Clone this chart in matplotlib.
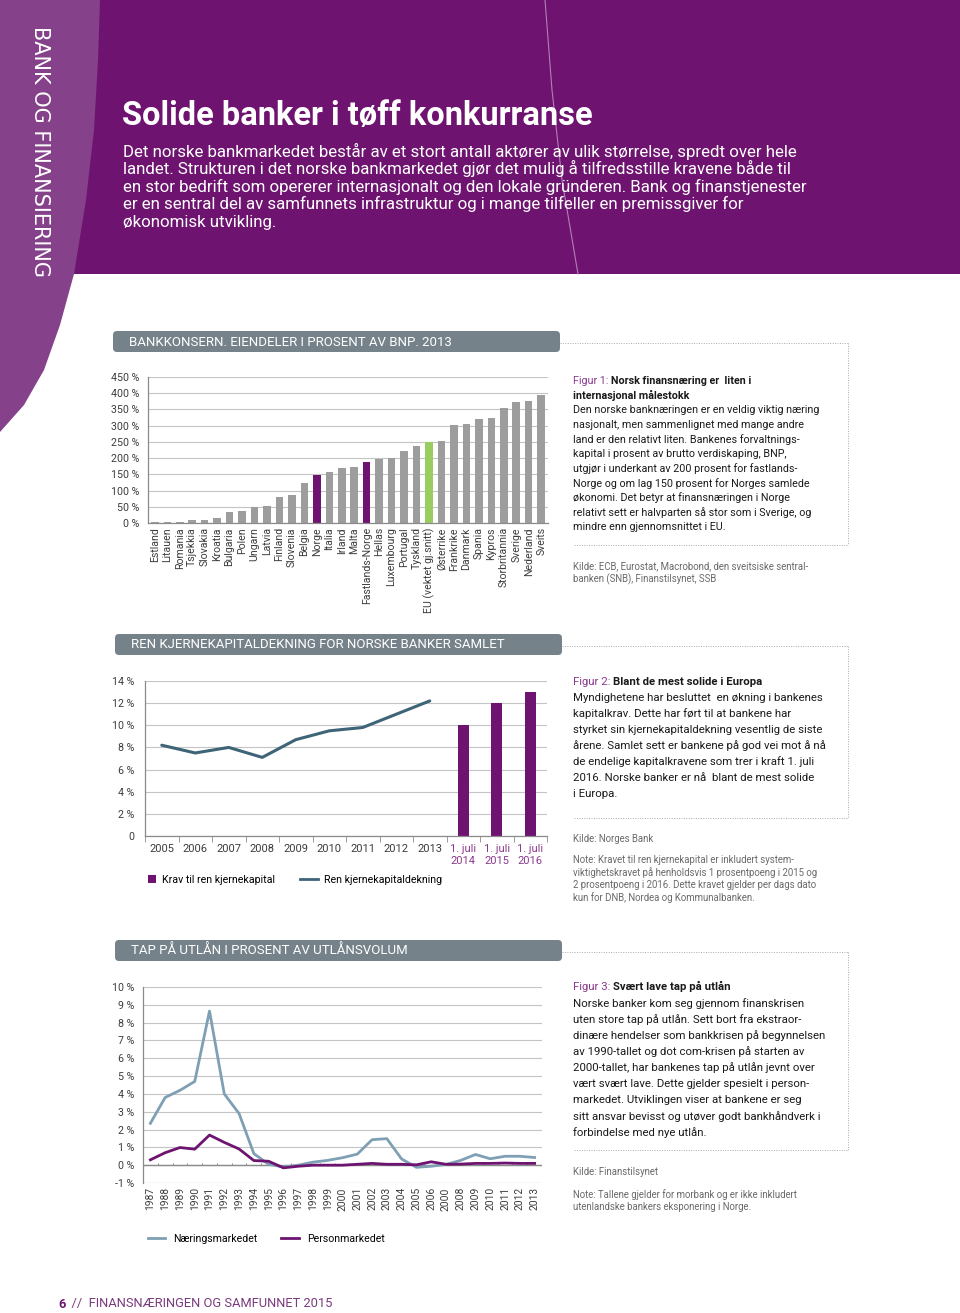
import matplotlib
matplotlib.use("Agg")
import matplotlib.pyplot as plt
from matplotlib import font_manager
from matplotlib.patches import Polygon, FancyBboxPatch, Patch
from matplotlib.lines import Line2D

# fonts: a narrow face for the DIN-like texts if there is one
names = {f.name for f in font_manager.fontManager.ttflist}
narrow = 'Liberation Sans Narrow' if 'Liberation Sans Narrow' in names else 'Roboto'
plt.rcParams['font.family'] = ['Roboto', 'DejaVu Sans']

purple = '#6e1470'
light_purple = '#85418a'
box_gray = '#76828a'
bar_gray = '#9d9d9d'
green = '#9acd5f'
grid_c = '#c4c4c4'
txt_c = '#3c3c3c'

# ---- data: figure 1 ----
countries = ["Estland", "Litauen", "Romania", "Tsjekkia", "Slovakia", "Kroatia",
             "Bulgaria", "Polen", "Ungarn", "Latvia", "Finland", "Slovenia", "Belgia",
             "Norge", "Italia", "Irland", "Malta", "Fastlands-Norge", "Hellas",
             "Luxembourg", "Portugal", "Tyskland", "EU (vektet gj.snitt)", "Østerrike",
             "Frankrike", "Danmark", "Spania", "Kypros", "Storbritannia", "Sverige",
             "Nederland", "Sveits"]
assets = [4, 4, 4, 9, 9, 15, 33, 36, 48, 51, 79, 86, 124, 149, 156, 170, 174, 189,
          196, 200, 223, 237, 251, 253, 301, 306, 321, 323, 353, 373, 375, 394]

# ---- data: figure 2 ----
cap_years = ["2005", "2006", "2007", "2008", "2009", "2010", "2011", "2012", "2013"]
cap_ratio = [8.2, 7.5, 8.0, 7.1, 8.7, 9.5, 9.8, 11.0, 12.2]
req_labels = ["1. juli\n2014", "1. juli\n2015", "1. juli\n2016"]
req_values = [10, 12, 13]

# ---- data: figure 3 ----
loss_years = ["1987", "1988", "1989", "1990", "1991", "1992", "1993", "1994", "1995",
              "1996", "1997", "1998", "1999", "2000", "2001", "2002", "2003", "2004",
              "2005", "2006", "2000", "2008", "2009", "2010", "2011", "2012", "2013"]
naering = [2.35, 3.8, 4.2, 4.7, 8.65, 4.0, 2.9, 0.65, 0.05, -0.1, 0.0, 0.17, 0.27,
           0.42, 0.62, 1.43, 1.49, 0.35, -0.12, -0.06, 0.04, 0.27, 0.6, 0.36, 0.5,
           0.5, 0.43]
person = [0.3, 0.7, 0.99, 0.9, 1.69, 1.28, 0.91, 0.26, 0.22, -0.15, -0.06, 0.0, 0.0,
          0.0, 0.05, 0.1, 0.05, 0.05, 0.02, 0.19, 0.05, 0.06, 0.1, 0.1, 0.12, 0.1, 0.1]

W, H = 960, 1313
fig = plt.figure(figsize=(W / 100, H / 100), dpi=100)
fig.patch.set_facecolor('white')

# background axes in pixel units for the page layout
bg = fig.add_axes([0, 0, 1, 1])
bg.set_xlim(0, W)
bg.set_ylim(H, 0)
bg.axis('off')


def px_axes(l, t, r, b):
    return fig.add_axes([l / W, 1 - b / H, (r - l) / W, (b - t) / H])


# header
bg.add_patch(Polygon([(0, 0), (W, 0), (W, 274), (0, 274)], closed=True,
                     facecolor=purple, edgecolor='none'))
band = [(0, 0), (100, 0), (98, 60), (94, 130), (86, 200), (74, 274), (60, 325),
        (44, 370), (24, 405), (0, 432)]
bg.add_patch(Polygon(band, closed=True, facecolor=light_purple, edgecolor='none'))
bg.plot([545, 552, 562, 578], [0, 90, 180, 274], color='#b27fb6', lw=0.8)
bg.text(40, 26, "BANK OG FINANSIERING", rotation=-90, color='white', fontsize=15,
        ha='center', va='top', family=['DejaVu Sans'])
bg.text(122, 116, "Solide banker i tøff konkurranse", color='white', fontsize=23.5,
        fontweight='bold', va='center', family=[narrow, 'Roboto'])
intro = ["Det norske bankmarkedet består av et stort antall aktører av ulik størrelse, spredt over hele",
         "landet. Strukturen i det norske bankmarkedet gjør det mulig å tilfredsstille kravene både til",
         "en stor bedrift som opererer internasjonalt og den lokale gründeren. Bank og finanstjenester",
         "er en sentral del av samfunnets infrastruktur og i mange tilfeller en premissgiver for",
         "økonomisk utvikling."]
for i, line in enumerate(intro):
    bg.text(123, 151 + i * 17.8, line, color='white', fontsize=12.2, va='center',
            family=[narrow, 'Roboto'])


def section(y, x0, x1, title, box_bottom):
    bg.add_patch(FancyBboxPatch((x0, y), x1 - x0, 21, boxstyle="round,pad=0,rounding_size=4",
                                facecolor=box_gray, edgecolor='none'))
    bg.text(x0 + 16, y + 11, title, color='white', fontsize=9.5, va='center',
            family=[narrow, 'Roboto'])
    ly = y + 12
    bg.plot([x1, 848], [ly, ly], color='#aaaaaa', lw=0.7, ls=(0, (1, 1.5)))
    bg.plot([848, 848], [ly, box_bottom], color='#aaaaaa', lw=0.7, ls=(0, (1, 1.5)))
    bg.plot([574, 848], [box_bottom, box_bottom], color='#aaaaaa', lw=0.7, ls=(0, (1, 1.5)))


section(331, 113, 560, "BANKKONSERN. EIENDELER I PROSENT AV BNP. 2013", 545)
section(634, 115, 562, "REN KJERNEKAPITALDEKNING FOR NORSKE BANKER SAMLET", 818)
section(940, 115, 562, "TAP PÅ UTLÅN I PROSENT AV UTLÅNSVOLUM", 1150)


def panel(no, y0, step, size, head, body, kilde, note, y_kilde, y_note, small):
    t = bg.text(573, y0, f"Figur {no}: ", color='#8a3a8c', fontsize=size, va='center')
    bg.annotate(head[0], xy=(1, 0), xycoords=t, va='bottom', ha='left',
                fontsize=size, fontweight='bold', color='#1a1a1a')
    lines = [(h, 'bold') for h in head[1:]] + [(b, 'normal') for b in body]
    for i, (line, w) in enumerate(lines):
        bg.text(573, y0 + (i + 1) * step, line, fontsize=size, fontweight=w,
                color='#1a1a1a', va='center')
    bg.text(573, y_kilde, kilde, fontsize=small, color='#6a6a6a', va='center',
            linespacing=1.25)
    if note:
        bg.text(573, y_note, note, fontsize=small, color='#6a6a6a', va='top',
                linespacing=1.25)


panel(1, 381, 14.6, 7.75,
      ["Norsk finansnæring er  liten i", "internasjonal målestokk"],
      ["Den norske banknæringen er en veldig viktig næring",
       "nasjonalt, men sammenlignet med mange andre",
       "land er den relativt liten. Bankenes forvaltnings-",
       "kapital i prosent av brutto verdiskaping, BNP,",
       "utgjør i underkant av 200 prosent for fastlands-",
       "Norge og om lag 150 prosent for Norges samlede",
       "økonomi. Det betyr at finansnæringen i Norge",
       "relativt sett er halvparten så stor som i Sverige, og",
       "mindre enn gjennomsnittet i EU."],
      "Kilde: ECB, Eurostat, Macrobond, den sveitsiske sentral-\nbanken (SNB), Finanstilsynet, SSB",
      None, 573, 0, 6.9)
panel(2, 682, 16.0, 8.2,
      ["Blant de mest solide i Europa"],
      ["Myndighetene har besluttet  en økning i bankenes",
       "kapitalkrav. Dette har ført til at bankene har",
       "styrket sin kjernekapitaldekning vesentlig de siste",
       "årene. Samlet sett er bankene på god vei mot å nå",
       "de endelige kapitalkravene som trer i kraft 1. juli",
       "2016. Norske banker er nå  blant de mest solide",
       "i Europa."],
      "Kilde: Norges Bank",
      "Note: Kravet til ren kjernekapital er inkludert system-\nviktighetskravet på henholdsvis 1 prosentpoeng i 2015 og\n"
      "2 prosentpoeng i 2016. Dette kravet gjelder per dags dato\nkun for DNB, Nordea og Kommunalbanken.",
      839, 855, 6.9)
panel(3, 987, 16.2, 8.2,
      ["Svært lave tap på utlån"],
      ["Norske banker kom seg gjennom finanskrisen",
       "uten store tap på utlån. Sett bort fra ekstraor-",
       "dinære hendelser som bankkrisen på begynnelsen",
       "av 1990-tallet og dot com-krisen på starten av",
       "2000-tallet, har bankenes tap på utlån jevnt over",
       "vært svært lave. Dette gjelder spesielt i person-",
       "markedet. Utviklingen viser at bankene er seg",
       "sitt ansvar bevisst og utøver godt bankhåndverk i",
       "forbindelse med nye utlån."],
      "Kilde: Finanstilsynet",
      "Note: Tallene gjelder for morbank og er ikke inkludert\nutenlandske bankers eksponering i Norge.",
      1172, 1189, 6.9)

# footer
f6 = bg.text(58, 1304, "6", color=purple, fontsize=9.3, fontweight='bold', va='center')
bg.annotate("  //  FINANSNÆRINGEN OG SAMFUNNET 2015", xy=(1, 0), xycoords=f6,
            va='bottom', ha='left', color='#7a3a7e', fontsize=9.3)


def style(ax):
    ax.set_facecolor('none')
    for s in ['top', 'right']:
        ax.spines[s].set_visible(False)
    for s in ['left', 'bottom']:
        ax.spines[s].set_color('#8a8a8a')
        ax.spines[s].set_linewidth(0.9)
    ax.grid(axis='y', color=grid_c, lw=0.8)
    ax.set_axisbelow(True)
    ax.tick_params(colors=txt_c, labelsize=7.7, length=0)


# ---- chart 1 ----
ax1 = px_axes(148, 377, 548, 523)
style(ax1)
colors1 = [bar_gray] * len(countries)
colors1[countries.index("Norge")] = purple
colors1[countries.index("Fastlands-Norge")] = purple
colors1[countries.index("EU (vektet gj.snitt)")] = green
x1 = range(len(countries))
ax1.bar(x1, assets, width=0.6, color=colors1)
ax1.set_xlim(-0.55, len(countries) - 0.45)
ax1.set_ylim(0, 450)
ax1.set_yticks(range(0, 451, 50))
ax1.set_yticklabels([f"{v} %" for v in range(0, 451, 50)])
ax1.set_xticks(list(x1))
ax1.set_xticklabels(countries, rotation=90, fontsize=7.6)
ax1.tick_params(axis='x', pad=3)
ax1.tick_params(axis='y', pad=6)

# ---- chart 2 ----
ax2 = px_axes(145, 681, 547, 836)
style(ax2)
cats2 = cap_years + req_labels
n_line = len(cap_years)
ax2.plot(range(n_line), cap_ratio, color='#3e6478', lw=2.2, solid_capstyle='round')
ax2.bar(range(n_line, len(cats2)), req_values, width=0.32, color=purple)
ax2.set_xlim(-0.5, len(cats2) - 0.5)
ax2.set_ylim(0, 14)
ax2.set_yticks(range(0, 15, 2))
ax2.set_yticklabels(["0"] + [f"{v} %" for v in range(2, 15, 2)])
ax2.set_xticks(range(len(cats2)))
ax2.set_xticklabels(cats2, fontsize=8)
for lab in ax2.get_xticklabels()[n_line:]:
    lab.set_color('#8a3a8c')
ax2.set_xticks([i - 0.5 for i in range(len(cats2) + 1)], minor=True)
ax2.tick_params(axis='x', which='minor', length=4, color='#8a8a8a', direction='out')
ax2.tick_params(axis='x', pad=6)
ax2.tick_params(axis='y', pad=8)
leg = ax2.legend(handles=[Patch(facecolor=purple, label="Krav til ren kjernekapital")],
                 loc='center left', bbox_to_anchor=(138 / W, 1 - 880 / H),
                 bbox_transform=fig.transFigure, frameon=False, fontsize=7.7,
                 handlelength=0.8, handleheight=0.8, handletextpad=0.5)
ax2.add_artist(leg)
ax2.legend(handles=[Line2D([], [], color='#3e6478', lw=2, label="Ren kjernekapitaldekning")],
           loc='center left', bbox_to_anchor=(290 / W, 1 - 880 / H),
           bbox_transform=fig.transFigure, frameon=False, fontsize=7.7,
           handlelength=1.7, handletextpad=0.6)

# ---- chart 3 ----
ax3 = px_axes(143, 987, 542, 1183)
style(ax3)
ax3.spines['bottom'].set_visible(False)
xs = range(len(loss_years))
ax3.axhline(0, color='#8a8a8a', lw=1.0, zorder=1)
ax3.axhline(-1, color=grid_c, lw=0.8, zorder=1)
ax3.vlines([i + 0.5 for i in range(len(loss_years) - 1)], 0, 0.15, color='#8a8a8a', lw=0.7)
ax3.plot(xs, naering, color='#7fa0b4', lw=2.0, label="Næringsmarkedet")
ax3.plot(xs, person, color=purple, lw=2.0, label="Personmarkedet")
ax3.set_xlim(-0.5, len(loss_years) - 0.5)
ax3.set_ylim(-1, 10)
ax3.set_yticks(range(-1, 11))
ax3.set_yticklabels([f"{v} %" for v in range(-1, 11)])
ax3.set_xticks(list(xs))
ax3.set_xticklabels(loss_years, rotation=90, fontsize=7.4)
ax3.tick_params(axis='x', pad=3)
ax3.tick_params(axis='y', pad=6)
ax3.legend(loc='center left', bbox_to_anchor=(138 / W, 1 - 1239 / H),
           bbox_transform=fig.transFigure, frameon=False, fontsize=7.6, ncol=2,
           handlelength=1.7, handletextpad=0.7, columnspacing=2.3)

fig.savefig("out.png", dpi=100)
